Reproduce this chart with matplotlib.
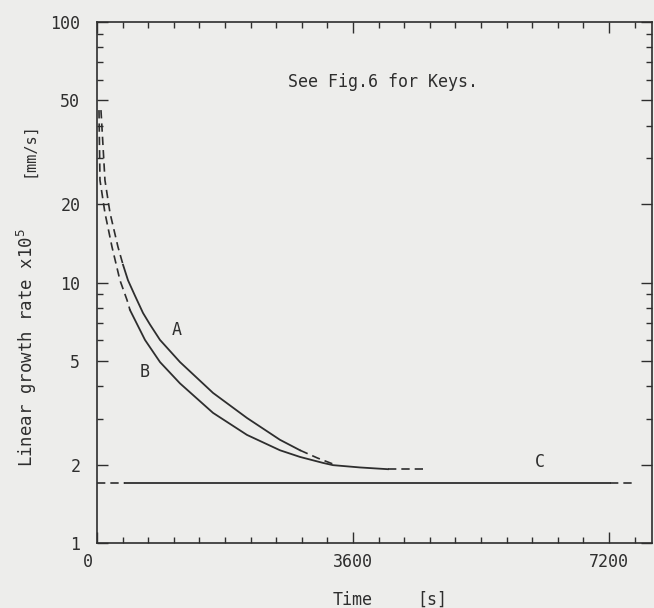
import matplotlib
matplotlib.use("Agg")
import matplotlib.pyplot as plt
import matplotlib.ticker as mticker
import matplotlib.transforms as mtransforms

# curve A, split by line style
a_dash1_t = [56, 112, 183, 295, 366]
a_dash1_v = [45.9, 24.7, 18.5, 13.7, 11.7]
a_solid_t = [366, 436, 534, 647, 745, 886, 1167, 1631, 2109, 2573, 2855]
a_solid_v = [11.7, 10.2, 8.9, 7.64, 6.9, 6.02, 4.95, 3.77, 3.02, 2.49, 2.27]
a_dash2_t = [2855, 3100, 3319]
a_dash2_v = [2.27, 2.12, 2.01]

# curve B
b_dash1_t = [28, 42, 112, 211, 323, 422, 464]
b_dash1_v = [45.9, 24.7, 18.5, 13.7, 10.2, 8.57, 7.84]
b_solid_t = [464, 675, 886, 1167, 1631, 2109, 2573, 2855, 3178, 3319, 3698, 4092]
b_solid_v = [7.84, 6.02, 4.95, 4.1, 3.16, 2.60, 2.27, 2.14, 2.03, 1.99, 1.95, 1.92]
b_dash2_t = [4092, 4584]
b_dash2_v = [1.92, 1.92]

# curve C
c_dash1_t = [0, 394]
c_solid_t = [394, 7214]
c_dash2_t = [7214, 7566]
c_value = 1.70

bg = "#ededeb"
ink = "#2e2e2e"
mono = "DejaVu Sans Mono"

fig = plt.figure(figsize=(6.54, 6.08), dpi=100, facecolor=bg)
ax = fig.add_axes([0.1483, 0.1069, 0.997 - 0.1483, 0.9638 - 0.1069])
ax.set_facecolor(bg)

dash = dict(color=ink, lw=1.2, linestyle=(0, (5, 3)))
solid = dict(color=ink, lw=1.3)

ax.plot(a_dash1_t, a_dash1_v, **dash)
ax.plot(a_solid_t, a_solid_v, **solid)
ax.plot(a_dash2_t, a_dash2_v, **dash)
ax.plot(b_dash1_t, b_dash1_v, **dash)
ax.plot(b_solid_t, b_solid_v, **solid)
ax.plot(b_dash2_t, b_dash2_v, **dash)
ax.plot(c_dash1_t, [c_value] * 2, **dash)
ax.plot(c_solid_t, [c_value] * 2, **solid)
ax.plot(c_dash2_t, [c_value] * 2, **dash)

ax.set_yscale("log")
ax.set_xlim(0, 7805)
ax.set_ylim(1, 100)

ax.xaxis.set_major_locator(mticker.FixedLocator([0, 3600, 7200]))
ax.xaxis.set_minor_locator(mticker.MultipleLocator(360))
ax.xaxis.set_major_formatter(mticker.FixedFormatter(["0", "3600", "7200"]))
ax.yaxis.set_major_locator(mticker.FixedLocator([1, 2, 5, 10, 20, 50, 100]))
ax.yaxis.set_major_formatter(mticker.FixedFormatter(["1", "2", "5", "10", "20", "50", "100"]))
ax.yaxis.set_minor_locator(mticker.LogLocator(base=10, subs=(3, 4, 6, 7, 8, 9)))
ax.yaxis.set_minor_formatter(mticker.NullFormatter())

ax.tick_params(which="both", direction="in", top=True, right=True, colors=ink,
               width=1.0, labelsize=12, labelcolor=ink)
ax.tick_params(which="major", length=8)
ax.tick_params(which="minor", length=4)
ax.tick_params(axis="y", pad=12)
ax.tick_params(axis="x", pad=7)
for lab in ax.get_xticklabels() + ax.get_yticklabels():
    lab.set_family(mono)
# the "0" under the origin sits a little to the left
ax.get_xticklabels()[0].set_transform(
    ax.get_xticklabels()[0].get_transform()
    + mtransforms.ScaledTranslation(-0.09, 0, fig.dpi_scale_trans))

for s in ax.spines.values():
    s.set_color(ink)
    s.set_linewidth(1.2)

ax.text(1125, 6.57, "A", fontsize=12, family=mono, color=ink, ha="center", va="center")
ax.text(675, 4.53, "B", fontsize=12, family=mono, color=ink, ha="center", va="center")
ax.text(6230, 2.05, "C", fontsize=12, family=mono, color=ink, ha="center", va="center")
ax.text(0.345, 0.885, "See Fig.6 for Keys.", transform=ax.transAxes, fontsize=12,
        family=mono, color=ink, ha="left", va="center")

fig.text(353 / 654, 1 - 600 / 608, "Time", fontsize=12, family=mono, color=ink,
         ha="center", va="center")
fig.text(432 / 654, 1 - 600 / 608, "[s]", fontsize=12, family=mono, color=ink,
         ha="center", va="center")
fig.text(27 / 654, 1 - 348 / 608, r"Linear growth rate x10$^5$", fontsize=12.5,
         family=mono, color=ink, rotation=90, ha="center", va="center")
fig.text(29 / 654, 1 - 150 / 608, "[mm/s]", fontsize=11, family=mono, color=ink,
         rotation=90, ha="center", va="center")

fig.savefig("out.png", dpi=100, facecolor=bg)
